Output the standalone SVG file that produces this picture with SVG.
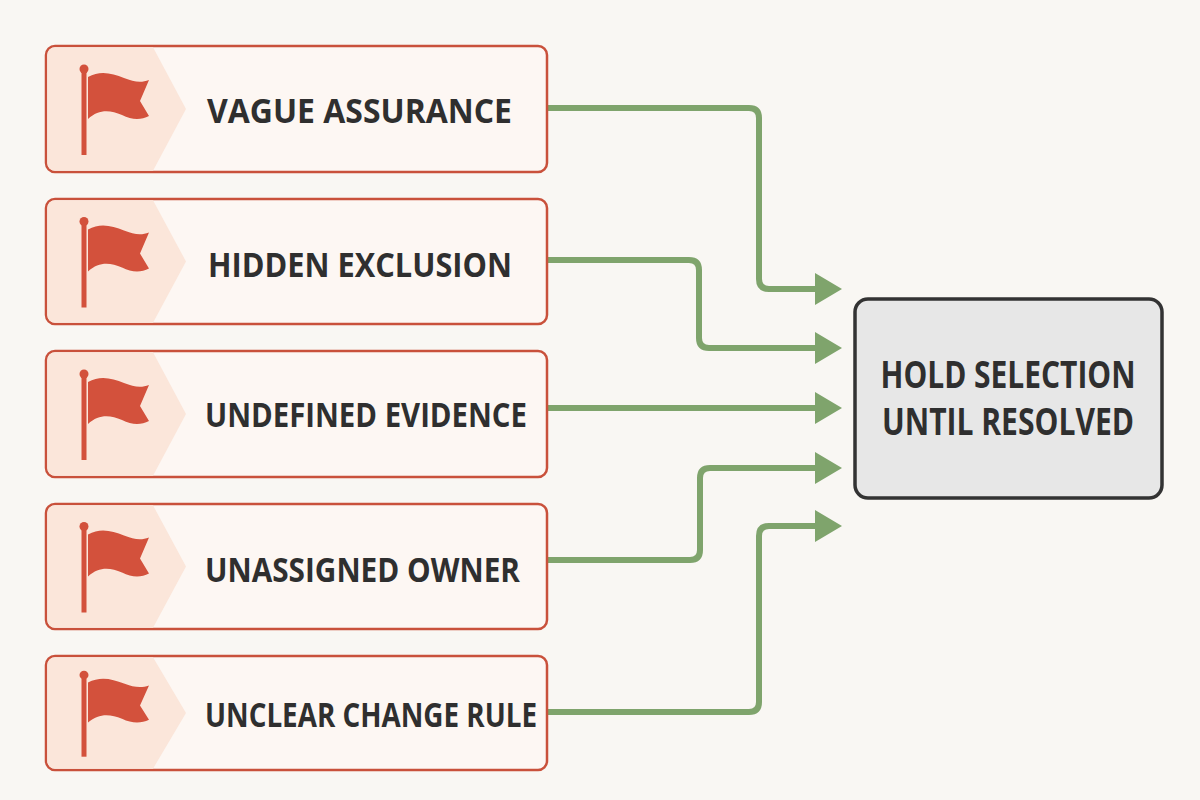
<svg xmlns="http://www.w3.org/2000/svg" width="1200" height="800" viewBox="0 0 1200 800">
<style>
.box{fill:#fdf7f3;stroke:#c9513b;stroke-width:2.5}
.panel{fill:#fbe6da}
.flag{fill:#d3513c}
.lbl{font-family:"Open Sans","Liberation Sans",sans-serif;font-weight:700;font-size:34px;fill:#2f2f2f}
.conn{fill:none;stroke:#7fa46c;stroke-width:6}
.hold{fill:#e7e7e7;stroke:#333333;stroke-width:3.5}
.holdt{font-family:"Open Sans","Liberation Sans",sans-serif;font-weight:700;font-size:37px;fill:#2f2f2f;text-anchor:middle}
</style>
<defs>
<marker id="ah" markerUnits="userSpaceOnUse" markerWidth="28" markerHeight="34" refX="0" refY="16" orient="auto" viewBox="0 0 28 34">
<path d="M0,0 L27,16 L0,32 Z" fill="#7fa46c"/>
</marker>
<g id="flagicon">
<rect x="81.5" y="-38" width="5" height="84" class="flag"/>
<circle cx="84" cy="-40" r="4.5" class="flag"/>
<path class="flag" d="M88,-32 C100,-39 112,-36 124,-31 C134,-27 141,-26 149,-29 L140,-8 L149,7 C141,11 132,11 122,6 C110,1 99,0 88,10 Z"/>
</g>
</defs>
<rect width="1200" height="800" fill="#f9f7f3"/>

<g id="connectors">
<path class="conn" marker-end="url(#ah)" d="M547,108 H749 Q759,108 759,118 V279 Q759,289 769,289 H815"/>
<path class="conn" marker-end="url(#ah)" d="M547,260 H689 Q699,260 699,270 V338 Q699,348 709,348 H815"/>
<path class="conn" marker-end="url(#ah)" d="M547,408 H815"/>
<path class="conn" marker-end="url(#ah)" d="M547,560 H690 Q700,560 700,550 V478 Q700,468 710,468 H815"/>
<path class="conn" marker-end="url(#ah)" d="M547,712 H749 Q759,712 759,702 V536 Q759,526 769,526 H815"/>
</g>

<g id="node1">
<rect class="box" x="46" y="46" width="501" height="126" rx="9"/>
<path class="panel" d="M55,47.3 H153 L186,109 L153,170.7 H55 A7.7,7.7 0 0 1 47.3,163 V55 A7.7,7.7 0 0 1 55,47.3 Z"/>
<use href="#flagicon" transform="translate(0,109)"/>
<text class="lbl" x="207" y="123" textLength="305" lengthAdjust="spacingAndGlyphs">VAGUE ASSURANCE</text>
</g>

<g id="node2">
<rect class="box" x="46" y="199" width="501" height="125" rx="9"/>
<path class="panel" d="M55,200.3 H153 L186,261.5 L153,322.7 H55 A7.7,7.7 0 0 1 47.3,315 V208 A7.7,7.7 0 0 1 55,200.3 Z"/>
<use href="#flagicon" transform="translate(0,261.5)"/>
<text class="lbl" x="208" y="277" textLength="304" lengthAdjust="spacingAndGlyphs">HIDDEN EXCLUSION</text>
</g>

<g id="node3">
<rect class="box" x="46" y="351" width="501" height="126" rx="9"/>
<path class="panel" d="M55,352.3 H153 L186,414 L153,475.7 H55 A7.7,7.7 0 0 1 47.3,468 V360 A7.7,7.7 0 0 1 55,352.3 Z"/>
<use href="#flagicon" transform="translate(0,414)"/>
<text class="lbl" x="205" y="427" textLength="322" lengthAdjust="spacingAndGlyphs">UNDEFINED EVIDENCE</text>
</g>

<g id="node4">
<rect class="box" x="46" y="504" width="501" height="125" rx="9"/>
<path class="panel" d="M55,505.3 H153 L186,566.5 L153,627.7 H55 A7.7,7.7 0 0 1 47.3,620 V513 A7.7,7.7 0 0 1 55,505.3 Z"/>
<use href="#flagicon" transform="translate(0,566.5)"/>
<text class="lbl" x="205" y="582" textLength="315" lengthAdjust="spacingAndGlyphs">UNASSIGNED OWNER</text>
</g>

<g id="node5">
<rect class="box" x="46" y="656" width="501" height="114" rx="9"/>
<path class="panel" d="M55,657.3 H153 L186,713 L153,768.7 H55 A7.7,7.7 0 0 1 47.3,761 V665 A7.7,7.7 0 0 1 55,657.3 Z"/>
<use href="#flagicon" transform="translate(0,713) scale(1,0.95)"/>
<text class="lbl" x="205" y="727" textLength="332" lengthAdjust="spacingAndGlyphs">UNCLEAR CHANGE RULE</text>
</g>

<g id="hold">
<rect class="hold" x="855" y="299" width="307" height="199" rx="13"/>
<text class="holdt" x="1008" y="388" textLength="255" lengthAdjust="spacingAndGlyphs">HOLD SELECTION</text>
<text class="holdt" x="1008" y="435" textLength="252" lengthAdjust="spacingAndGlyphs">UNTIL RESOLVED</text>
</g>
</svg>
